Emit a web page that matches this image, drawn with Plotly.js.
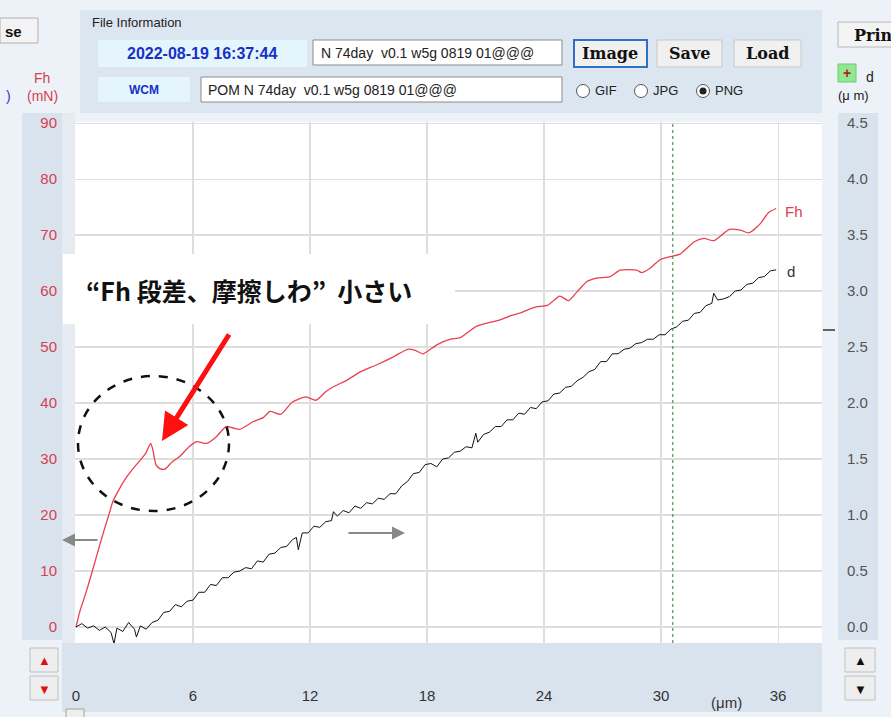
<!DOCTYPE html>
<html><head><meta charset="utf-8">
<script src="https://cdn.plot.ly/plotly-3.0.1.min.js"></script>
<style>html,body{margin:0;padding:0;background:#edf2f8;}#chart{width:891px;height:717px;}</style>
</head><body><div id="chart"></div>
<script>
// ---- data ----
const xTicks = [0, 6, 12, 18, 24, 30, 36];
const fhTicks = [0, 10, 20, 30, 40, 50, 60, 70, 80, 90];
const dTicks = [0, 0.5, 1.0, 1.5, 2.0, 2.5, 3.0, 3.5, 4.0, 4.5];
const dTickText = ['0.0','0.5','1.0','1.5','2.0','2.5','3.0','3.5','4.0','4.5'];

const fhX = [0,0.2,0.5,0.8,1.1,1.4,1.7,1.9,2.2,2.6,3.0,3.3,3.6,3.83,3.95,4.1,4.3,4.56,4.9,5.33,5.8,6.2,6.7,7.2,7.7,8.1,8.4,9.1,9.6,9.95,10.5,11.1,11.8,12.3,12.8,13.2,13.9,14.6,15.4,16.3,17.0,17.4,17.8,18.5,19.2,19.7,20.55,21.2,21.7,22.3,22.8,23.5,24.2,24.8,25.25,25.7,26.2,26.7,27.4,27.9,28.75,29.0,29.4,29.95,30.6,30.97,31.7,32.2,32.7,33.5,34.05,34.5,35.1,35.5,35.9];
const fhY = [0,2.8,6.0,9.5,13.2,16.8,20.2,22.5,24.5,26.8,28.6,29.8,31.2,32.8,31.5,29.0,28.3,28.2,29.4,30.5,32.2,33.1,32.8,34.0,35.8,35.5,35.3,36.7,37.4,38.5,38.0,40.2,41.1,40.5,42.0,42.9,44.1,45.6,46.8,48.3,49.6,49.4,48.8,50.4,51.4,51.7,53.75,54.4,54.8,55.6,56.1,57.1,57.5,59.1,58.3,59.9,61.7,62.3,62.6,63.75,63.75,63.3,64.0,65.6,66.25,66.6,68.8,69.4,69.0,71.0,70.9,70.4,72.1,74.0,74.75];

const dX = [0,0.3,0.6,0.9,1.2,1.5,1.8,1.95,2.1,2.4,2.7,3.0,3.1,3.3,3.6,3.9,4.2,4.5,4.8,5.1,5.4,5.7,6.0,6.3,6.6,6.9,7.2,7.5,7.8,8.1,8.4,8.7,9.0,9.3,9.6,9.9,10.2,10.5,10.8,11.1,11.3,11.4,11.6,11.9,12.2,12.5,12.8,13.1,13.2,13.4,13.7,14.0,14.3,14.6,14.9,15.2,15.5,15.8,16.1,16.4,16.7,17.0,17.3,17.6,17.9,18.2,18.5,18.8,19.1,19.4,19.7,20.0,20.3,20.5,20.6,20.9,21.2,21.5,21.8,22.1,22.4,22.7,23.0,23.3,23.6,23.9,24.2,24.5,24.8,25.1,25.4,25.7,26.0,26.3,26.6,26.9,27.2,27.5,27.8,28.1,28.4,28.7,29.0,29.3,29.6,29.9,30.2,30.5,30.8,31.1,31.4,31.7,32.0,32.3,32.6,32.7,32.9,33.2,33.5,33.8,34.1,34.4,34.7,35.0,35.3,35.6,35.9];
const dY = [0.00,0.03,-0.01,0.01,-0.03,0.00,-0.05,-0.15,-0.01,-0.04,0.04,-0.02,-0.09,0.01,-0.02,0.04,0.06,0.13,0.14,0.20,0.18,0.23,0.24,0.31,0.31,0.38,0.37,0.44,0.44,0.49,0.50,0.53,0.52,0.59,0.58,0.65,0.66,0.71,0.72,0.78,0.80,0.69,0.84,0.84,0.90,0.89,0.94,0.95,1.03,0.99,1.04,1.02,1.08,1.06,1.11,1.10,1.15,1.14,1.19,1.19,1.26,1.30,1.37,1.38,1.45,1.46,1.43,1.50,1.51,1.56,1.57,1.61,1.60,1.73,1.65,1.72,1.74,1.79,1.79,1.85,1.85,1.91,1.90,1.96,1.95,2.01,2.02,2.08,2.09,2.14,2.15,2.20,2.23,2.28,2.30,2.37,2.37,2.44,2.44,2.48,2.49,2.53,2.54,2.57,2.57,2.61,2.61,2.66,2.68,2.73,2.74,2.80,2.81,2.87,2.89,2.98,2.92,2.93,2.95,3.00,3.01,3.06,3.07,3.12,3.13,3.18,3.19];

const cursorX = [30.6];

// ---- geometry helpers (pixel -> paper) ----
const L = 75, R = 822, T = 122, B = 643;
const X = p => (p - L) / (R - L);
const Y = p => (B - p) / (B - T);
const shapes = [];
const annotations = [];
function box(x0, y0, x1, y1, fill, lc, lw, layer) {
  shapes.push({type:'rect', xref:'paper', yref:'paper', x0:X(x0), x1:X(x1), y0:Y(y1), y1:Y(y0),
    fillcolor:fill, line:{color:lc || fill, width: lw == null ? 0 : lw}, layer: layer || 'below'});
}
function txt(x, y, text, o) {
  o = o || {};
  annotations.push({xref:'paper', yref:'paper', x:X(x), y:Y(y), text:text, showarrow:false,
    xanchor:o.xa || 'left', yanchor:'middle',
    font:{family:o.family || 'Liberation Sans, Arial, sans-serif', size:o.size || 14, color:o.color || '#222', weight:o.weight || 'normal'}});
}
function arrow(tx, ty, fx, fy, color, width, head, size) {
  annotations.push({xref:'paper', yref:'paper', x:X(tx), y:Y(ty), ax:fx - tx, ay:fy - ty, axref:'pixel', ayref:'pixel',
    text:'', showarrow:true, arrowcolor:color, arrowwidth:width, arrowhead:head, arrowsize:size});
}

// UI panels
box(80, 10, 822, 113, '#dce6f1');
box(22, 113, 62, 640, '#d9e3ee');
box(838, 113, 878, 640, '#d9e3ee');
box(62, 643, 822, 712, '#d9e3ee');
box(62, 113, 75, 643, '#e6ebf1');
box(0, 18, 38, 43, '#f3f3f3', '#b0b0b0', 1);
box(98, 40, 307, 67, '#e4f6fc');
box(313, 40, 562, 65, '#ffffff', '#8a8a8a', 1);
box(98, 77, 190, 102, '#e4f6fc');
box(201, 77, 562, 102, '#ffffff', '#8a8a8a', 1);
box(574, 40, 647, 67, '#f0f0f0', '#2f6fc4', 2);
box(657, 40, 722, 67, '#f0f0f0', '#c8c8c8', 1);
box(734, 40, 801, 67, '#f0f0f0', '#c8c8c8', 1);
box(838, 22, 895, 47, '#f3f3f3', '#b8b8b8', 1);
box(838, 64, 856, 82, '#90e890', '#70c870', 1);
box(30, 648, 58, 672, '#eeeeee', '#c0c0c0', 1);
box(30, 676, 58, 700, '#eeeeee', '#c0c0c0', 1);
box(845, 648, 875, 672, '#eeeeee', '#c0c0c0', 1);
box(845, 676, 875, 700, '#eeeeee', '#c0c0c0', 1);
box(66, 709, 84, 720, '#eeeeee', '#a0a0a0', 1);

// radio circles
function ring(cx, cy, r, dot) {
  shapes.push({type:'circle', xref:'paper', yref:'paper', x0:X(cx - r), x1:X(cx + r), y0:Y(cy + r), y1:Y(cy - r),
    fillcolor:'#ffffff', line:{color:'#555', width:1}, layer:'above'});
  if (dot) shapes.push({type:'circle', xref:'paper', yref:'paper', x0:X(cx - 3.5), x1:X(cx + 3.5), y0:Y(cy + 3.5), y1:Y(cy - 3.5),
    fillcolor:'#222', line:{color:'#222', width:0}, layer:'above'});
}
ring(583, 91, 6.5, false);
ring(641, 91, 6.5, false);
ring(703, 91, 6.5, true);

// UI text
txt(3, 31, 'se', {size:15, weight:'bold', color:'#111'});
txt(90, 22, 'File Information', {size:13, color:'#222'});
txt(202, 54, '2022-08-19 16:37:44', {xa:'center', size:16, color:'#1630c8', weight:'bold'});
txt(319, 53, 'N 74day&nbsp;&nbsp;v0.1 w5g 0819 01@@@', {size:14, color:'#222'});
txt(144, 90, 'WCM', {xa:'center', size:12, color:'#1630c8', weight:'bold'});
txt(206, 90, 'POM N 74day&nbsp;&nbsp;v0.1 w5g 0819 01@@@', {size:14, color:'#222'});
txt(610, 54, 'Image', {xa:'center', size:16, weight:'bold', color:'#111', family:'DejaVu Serif, serif'});
txt(689, 54, 'Save', {xa:'center', size:16, weight:'bold', color:'#111', family:'DejaVu Serif, serif'});
txt(767, 54, 'Load', {xa:'center', size:16, weight:'bold', color:'#111', family:'DejaVu Serif, serif'});
txt(593, 91, 'GIF', {size:13, color:'#222'});
txt(651, 91, 'JPG', {size:13, color:'#222'});
txt(713, 91, 'PNG', {size:13, color:'#222'});
txt(852, 35, 'Print', {size:16, weight:'bold', color:'#111', family:'DejaVu Serif, serif'});
txt(847, 73, '+', {xa:'center', size:14, color:'#c01818', weight:'bold'});
txt(864, 77, 'd', {size:14, color:'#222'});
txt(836, 96, '(μ m)', {size:13, color:'#222'});
txt(42, 78, 'Fh', {xa:'center', size:14, color:'#d8404e'});
txt(42, 96, '(mN)', {xa:'center', size:14, color:'#d8404e'});
txt(4, 96, ')', {size:14, color:'#2040d0'});
txt(44, 660, '▲', {xa:'center', size:13, color:'#e01010'});
txt(44, 689, '▼', {xa:'center', size:13, color:'#e01010'});
txt(860, 660, '▲', {xa:'center', size:13, color:'#111'});
txt(860, 689, '▼', {xa:'center', size:13, color:'#111'});
txt(709, 702, '(μm)', {size:15, color:'#333'});
txt(783, 211, 'Fh', {size:15, color:'#e04050'});
txt(785, 271, 'd', {size:15, color:'#333'});
shapes.push({type:'line', xref:'paper', yref:'paper', x0:X(823), x1:X(835), y0:Y(330), y1:Y(330), line:{color:'#333', width:1.5}, layer:'above'});

// Cursor line (green dotted) at data x
shapes.push({type:'line', xref:'x', yref:'paper', x0:cursorX[0], x1:cursorX[0], y0:0, y1:1, line:{color:'#2e7d32', width:1, dash:'dot'}, layer:'above'});

// callout box + text
box(63, 254, 455, 324, '#ffffff', '#ffffff', 0, 'above');
txt(84, 290, '“Fh 段差、摩擦しわ”&nbsp;&nbsp;小さい', {size:25, weight:'bold', color:'#111', family:'Noto Sans CJK JP, sans-serif'});
// dashed circle
shapes.push({type:'circle', xref:'paper', yref:'paper', x0:X(78), x1:X(229), y0:Y(511), y1:Y(376), line:{color:'#111', width:2.5, dash:'dash'}, layer:'above'});
// arrows
arrow(162, 441, 230, 333, '#ff1010', 5, 2, 1.1);
arrow(62, 540, 99, 540, '#888888', 2, 2, 1.3);
arrow(405, 533, 347, 533, '#888888', 2, 2, 1.3);

const traces = [
  {x: fhX, y: fhY, type:'scatter', mode:'lines', name:'Fh', line:{color:'#e8404f', width:1.3, shape:'spline', smoothing:0.6}, yaxis:'y'},
  {x: dX, y: dY, type:'scatter', mode:'lines', name:'d', line:{color:'#111111', width:1}, yaxis:'y2'}
];

const layout = {
  width: 891, height: 717,
  margin: {l: L, r: 891 - R, t: T, b: 717 - B},
  paper_bgcolor: '#edf2f8',
  plot_bgcolor: '#ffffff',
  showlegend: false,
  xaxis: {range:[-0.05, 38.25], tickvals: xTicks, ticktext: xTicks.map(String), showgrid:true, gridcolor:'#dedede', gridwidth:1.2,
    zeroline:false, showline:false, ticks:'', ticklabelstandoff: 42,
    tickfont:{family:'Liberation Sans, Arial, sans-serif', size:15, color:'#333'}},
  yaxis: {range:[-2.86, 90.2], tickvals: fhTicks, ticktext: fhTicks.map(String), showgrid:true, gridcolor:'#dedede', gridwidth:1.2,
    zeroline:false, showline:false, ticks:'', ticklabelstandoff: 17,
    tickfont:{family:'Liberation Sans, Arial, sans-serif', size:15, color:'#d8404e'}},
  yaxis2: {range:[-2.86/20, 90.2/20], overlaying:'y', side:'right', tickvals: dTicks, ticktext: dTickText, showgrid:false,
    zeroline:false, showline:false, ticks:'', ticklabelstandoff: 24,
    tickfont:{family:'Liberation Sans, Arial, sans-serif', size:15, color:'#555'}},
  shapes: shapes,
  annotations: annotations
};

Plotly.newPlot('chart', traces, layout, {staticPlot:true, displayModeBar:false});
</script>
</body></html>
